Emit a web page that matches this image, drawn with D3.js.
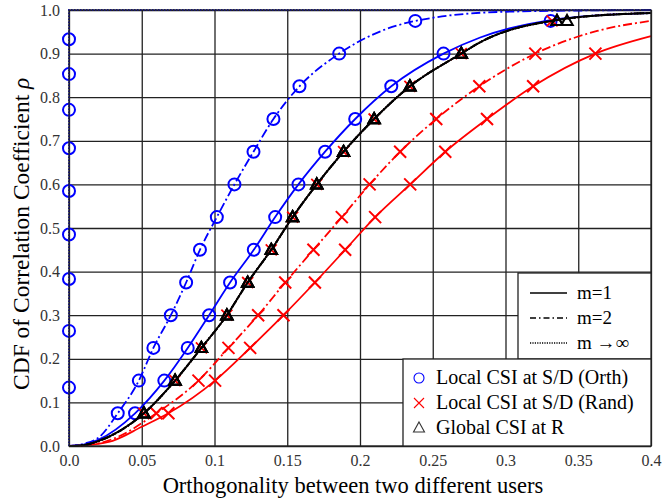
<!DOCTYPE html>
<html><head><meta charset="utf-8">
<script src="https://cdn.jsdelivr.net/npm/d3@7"></script>
<style>
body{margin:0;background:#fff;}
text{font-family:"Liberation Serif","Times New Roman",serif;}
</style></head>
<body><svg id="c" width="662" height="503"></svg>
<script>
// ---- Data ----
const xTickValues = [0,0.05,0.1,0.15,0.2,0.25,0.3,0.35,0.4];
const xTickLabels = ["0.0","0.05","0.1","0.15","0.2","0.25","0.3","0.35","0.4"];
const yTickValues = [0,0.1,0.2,0.3,0.4,0.5,0.6,0.7,0.8,0.9,1.0];
const yTickLabels = ["0.0","0.1","0.2","0.3","0.4","0.5","0.6","0.7","0.8","0.9","1.0"];
const markerY = [0.075,0.15,0.225,0.3,0.375,0.45,0.525,0.6,0.675,0.75,0.825,0.9,0.975];

// Local CSI (Orth)
const orthInfMarkX = [0,0,0,0,0,0,0,0,0];
const orthInfMarkY = [0.134,0.264,0.383,0.485,0.585,0.683,0.771,0.853,0.933];
const orthInfLineX = [0,0,0.4];
const orthInfLineY = [0,1,1];

const orthM2MarkX = [0.0335,0.048,0.058,0.070,0.0805,0.090,0.1016,0.1137,0.1268,0.1405,0.1584,0.1857,0.238];
const orthM2LineX = [0,0.01,0.021,0.0335,0.048,0.058,0.070,0.0805,0.090,0.1016,0.1137,0.1268,0.1405,0.1584,0.1857,0.238,0.3,0.4];
const orthM2LineY = [0,0.005,0.021,0.075,0.15,0.225,0.3,0.375,0.45,0.525,0.6,0.675,0.75,0.825,0.9,0.975,0.996,1.0];

const orthM1MarkX = [0.0454,0.0655,0.0816,0.0963,0.1107,0.127,0.1417,0.1577,0.176,0.1967,0.2215,0.2574,0.331];
const orthM1LineX = [0,0.01,0.02,0.0454,0.0655,0.0816,0.0963,0.1107,0.127,0.1417,0.1577,0.176,0.1967,0.2215,0.2574,0.2826,0.331,0.3514,0.4];
const orthM1LineY = [0,0.003,0.014,0.075,0.15,0.225,0.3,0.375,0.45,0.525,0.6,0.675,0.75,0.825,0.9,0.937,0.977,0.985,0.993];

// Global CSI at R (m=1, m=2, m->inf) and Local (Rand) m->inf
const globalM1MarkX = [0.0515,0.0729,0.091,0.1085,0.1228,0.139,0.1537,0.1703,0.1887,0.2097,0.2343,0.2696,0.3354];
const globalM2MarkX = [0.0515,0.0729,0.091,0.1085,0.1228,0.139,0.1537,0.1703,0.1887,0.2097,0.2343,0.2696,0.3354];
const globalInfMarkX = [0.0515,0.0729,0.091,0.1085,0.1228,0.139,0.1537,0.1703,0.1887,0.2097,0.2343,0.2696,0.3423];
const globalLineX = [0,0.01,0.02,0.0515,0.0729,0.091,0.1085,0.1228,0.139,0.1537,0.1703,0.1887,0.2097,0.2343,0.2696,0.2826,0.3354,0.3514,0.4];
const globalLineY = [0,0.002,0.011,0.075,0.15,0.225,0.3,0.375,0.45,0.525,0.6,0.675,0.75,0.825,0.9,0.926,0.977,0.984,0.993];
const randInfMarkX = [0.0515,0.0729,0.091,0.1085,0.1228,0.139,0.1537,0.1703,0.1887,0.2097,0.2343,0.2696,0.332];

// Local CSI (Rand)
const randM2MarkX = [0.060,0.089,0.1096,0.130,0.1486,0.168,0.1875,0.2066,0.2276,0.2524,0.282,0.3205];
const randM2LineX = [0,0.015,0.03,0.060,0.089,0.1096,0.130,0.1486,0.168,0.1875,0.2066,0.2276,0.2524,0.282,0.3205,0.363,0.4];
const randM2LineY = [0,0.003,0.016,0.075,0.15,0.225,0.3,0.375,0.45,0.525,0.6,0.675,0.75,0.825,0.9,0.952,0.975];

const randM1MarkX = [0.0683,0.1004,0.1245,0.1474,0.169,0.1898,0.2104,0.2345,0.2586,0.2873,0.319,0.3618];
const randM1LineX = [0,0.015,0.03,0.05,0.0683,0.1004,0.1245,0.1474,0.169,0.1898,0.2104,0.2345,0.2586,0.2873,0.319,0.3618,0.4];
const randM1LineY = [0,0.003,0.012,0.044,0.075,0.15,0.225,0.3,0.375,0.45,0.525,0.6,0.675,0.75,0.825,0.9,0.94];

const legendLines = ["m=1","m=2","m \u2192\u221E"];
const legendMarkers = ["Local CSI at S/D (Orth)","Local CSI at S/D (Rand)","Global CSI at R"];

// ---- Layout ----
const L=69,R=651,T=10,B=446;
const svg=d3.select("#c");
const x=d3.scaleLinear().domain([0,0.4]).range([L,R]);
const y=d3.scaleLinear().domain([0,1]).range([B,T]);
const BLUE="#0000ff", RED="#ff0000", BLACK="#000";
const DASHDOT="9,3,2,3", DOT="1.5,1.5";

// grid + ticks
const gx=svg.append("g").attr("transform",`translate(0,${B})`)
  .call(d3.axisBottom(x).tickValues(xTickValues).tickFormat((d,i)=>xTickLabels[i]).tickSize(-(B-T)).tickPadding(9));
const gy=svg.append("g").attr("transform",`translate(${L},0)`)
  .call(d3.axisLeft(y).tickValues(yTickValues).tickFormat((d,i)=>yTickLabels[i]).tickSize(-(R-L)).tickPadding(9));
[gx,gy].forEach(g=>{
  g.select(".domain").remove();
  g.selectAll("line").attr("stroke","#222").attr("stroke-width",1.3);
  g.selectAll("text").attr("font-size",16).attr("fill","#333").style("font-family","'Liberation Serif',serif");
});

const zip=(a,b)=>a.map((v,i)=>[v,b[i]]);
function drawLine(xs,ys,color,dash,w,curve){
  const ln = d3.line().x(d=>x(d[0])).y(d=>y(d[1])).curve(curve||d3.curveMonotoneX);
  svg.append("path").attr("d",ln(zip(xs,ys))).attr("fill","none").attr("stroke",color)
    .attr("stroke-width",w||1.8).attr("stroke-dasharray",dash||null);
}
function circles(xs,ys,color,r,w){
  svg.append("g").selectAll("circle").data(zip(xs,ys)).join("circle")
   .attr("cx",d=>x(d[0])).attr("cy",d=>y(d[1])).attr("r",r||6)
   .attr("fill","none").attr("stroke",color).attr("stroke-width",w||2);
}
function crosses(xs,ys,color,s,w){
  const g=svg.append("g");
  zip(xs,ys).forEach(d=>{
    const cx=x(d[0]),cy=y(d[1]);
    g.append("path").attr("d",`M${cx-s},${cy-s}L${cx+s},${cy+s}M${cx-s},${cy+s}L${cx+s},${cy-s}`)
     .attr("stroke",color).attr("stroke-width",w||2).attr("fill","none");
  });
}
function triangles(xs,ys,color,s,w){
  const g=svg.append("g");
  zip(xs,ys).forEach(d=>{
    const cx=x(d[0]),cy=y(d[1]);
    g.append("path").attr("d",`M${cx},${cy-s}L${cx+s*0.95},${cy+s*0.7}L${cx-s*0.95},${cy+s*0.7}Z`)
     .attr("stroke",color).attr("stroke-width",w||2).attr("fill","none");
  });
}

// Red (Rand) curves
drawLine(randM1LineX,randM1LineY,RED,null,1.8);
drawLine(randM2LineX,randM2LineY,RED,DASHDOT,1.8);
crosses(randM1MarkX,markerY.slice(0,randM1MarkX.length),RED,6,2);
crosses(randM2MarkX,markerY.slice(0,randM2MarkX.length),RED,6,2);

// Blue (Orth) curves
drawLine(orthInfLineX,orthInfLineY,BLUE,DOT,1.8,d3.curveLinear);
drawLine(orthM2LineX,orthM2LineY,BLUE,DASHDOT,1.8);
drawLine(orthM1LineX,orthM1LineY,BLUE,null,1.8);
circles(orthInfMarkX,orthInfMarkY,BLUE,6,2);
circles(orthM2MarkX,markerY,BLUE,6,2);
circles(orthM1MarkX,markerY,BLUE,6,2);

// Rand m->inf (red dotted) under Global (black)
drawLine(globalLineX,globalLineY,RED,DOT,1.6);
crosses(randInfMarkX,markerY,RED,5.5,1.8);
drawLine(globalLineX,globalLineY,BLACK,null,1.8);
drawLine(globalLineX,globalLineY,BLACK,DASHDOT,2);
drawLine(globalLineX,globalLineY,BLACK,DOT,2);
triangles(globalM1MarkX,markerY,BLACK,6,2);
triangles(globalM2MarkX,markerY,BLACK,6,2);
triangles(globalInfMarkX,markerY,BLACK,6,2);

// plot frame
svg.append("rect").attr("x",L).attr("y",T).attr("width",R-L).attr("height",B-T)
  .attr("fill","none").attr("stroke","#222").attr("stroke-width",1.3);

// Legend 1 (line styles)
const l1={x:518,y:273,w:R-518,h:86};
svg.append("rect").attr("x",l1.x).attr("y",l1.y).attr("width",l1.w).attr("height",l1.h)
  .attr("fill","#fff").attr("stroke","#222").attr("stroke-width",1.3);
const dashes=[null,"6,3,1.5,3","1.2,1.2"];
legendLines.forEach((t,i)=>{
  const yy=l1.y+20+i*25;
  svg.append("line").attr("x1",530).attr("x2",567).attr("y1",yy).attr("y2",yy)
    .attr("stroke",BLACK).attr("stroke-width",1.6).attr("stroke-dasharray",dashes[i]);
  svg.append("text").attr("x",577).attr("y",yy+6).attr("font-size",19).text(t);
});

// Legend 2 (markers)
const l2={x:403,y:359,w:R-403,h:B-359};
svg.append("rect").attr("x",l2.x).attr("y",l2.y).attr("width",l2.w).attr("height",l2.h)
  .attr("fill","#fff").attr("stroke","#222").attr("stroke-width",1.3);
legendMarkers.forEach((t,i)=>{
  const yy=l2.y+19+i*25, cx=419;
  if(i===0) svg.append("circle").attr("cx",cx).attr("cy",yy).attr("r",5).attr("fill","none").attr("stroke",BLUE).attr("stroke-width",1.1);
  if(i===1) svg.append("path").attr("d",`M${cx-5},${yy-5}L${cx+5},${yy+5}M${cx-5},${yy+5}L${cx+5},${yy-5}`).attr("stroke",RED).attr("stroke-width",1.1);
  if(i===2) svg.append("path").attr("d",`M${cx},${yy-6}L${cx+5.5},${yy+4}L${cx-5.5},${yy+4}Z`).attr("fill","none").attr("stroke","#333").attr("stroke-width",1.1);
  svg.append("text").attr("x",436).attr("y",yy+6).attr("font-size",20).text(t);
});

// Axis titles
svg.append("text").attr("x",353).attr("y",493).attr("text-anchor","middle").attr("font-size",22.5)
  .text("Orthogonality between two different users");
const yt=svg.append("text").attr("transform","translate(29,390) rotate(-90)").attr("text-anchor","start").attr("font-size",23.5);
yt.append("tspan").text("CDF of Correlation Coefficient ");
yt.append("tspan").attr("font-style","italic").text("\u03C1");
</script></body></html>
